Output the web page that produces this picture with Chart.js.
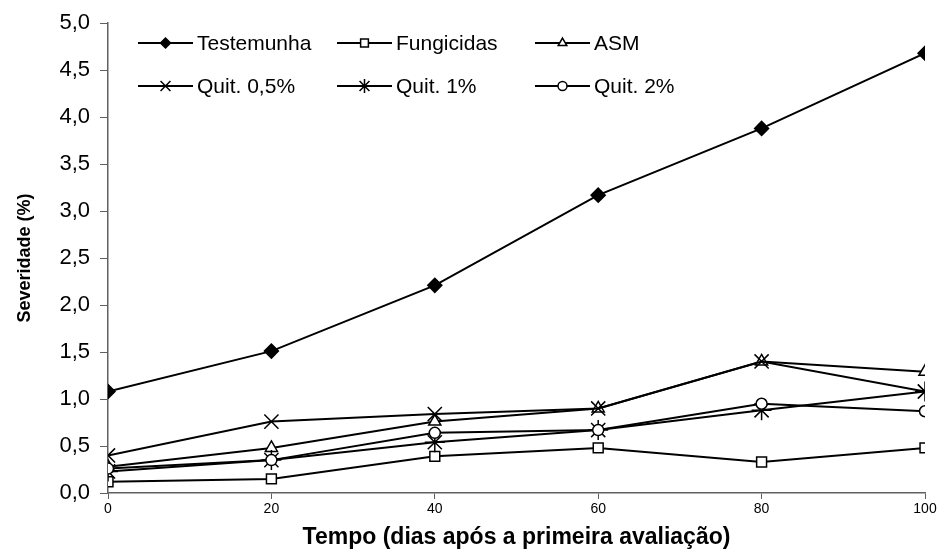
<!DOCTYPE html>
<html>
<head>
<meta charset="utf-8">
<script src="https://cdn.jsdelivr.net/npm/chart.js@4"></script>
<style>
  body { margin: 0; background: #fff; }
  #chart { display: block; }
</style>
</head>
<body>
<canvas id="chart" width="939" height="552"></canvas>
<script>
// Data
const days = [0, 20, 40, 60, 80, 100];
const seriesNames = ['Testemunha', 'Fungicidas', 'ASM', 'Quit. 0,5%', 'Quit. 1%', 'Quit. 2%'];
const testemunha = [1.08, 1.51, 2.21, 3.17, 3.88, 4.68];
const fungicidas = [0.12, 0.15, 0.39, 0.48, 0.33, 0.48];
const asm = [0.28, 0.48, 0.76, 0.90, 1.40, 1.29];
const quit05 = [0.40, 0.76, 0.84, 0.90, 1.40, 1.08];
const quit1 = [0.23, 0.35, 0.54, 0.67, 0.88, 1.08];
const quit2 = [0.26, 0.35, 0.64, 0.67, 0.95, 0.87];
const yTicks = [0, 0.5, 1, 1.5, 2, 2.5, 3, 3.5, 4, 4.5, 5];

const FONT = "'Liberation Sans', Arial, sans-serif";

// marker look per series
const markers = [
    { style: 'rectRot', radius: 7, fill: '#000', legendRadius: 5 },
    { style: 'rect', radius: 7, fill: '#fff', legendRadius: 5.5 },
    { style: 'triangle', radius: 7, fill: '#fff', legendRadius: 5 },
    { style: 'crossRot', radius: 10, fill: '#fff', legendRadius: 7 },
    { style: 'star', radius: 10, fill: '#fff', legendRadius: 7 },
    { style: 'circle', radius: 5.5, fill: '#fff', legendRadius: 4.5 }
];
const allValues = [testemunha, fungicidas, asm, quit05, quit1, quit2];

function toPoints(values) {
    return days.map((d, i) => ({ x: d, y: values[i] }));
}

const datasets = allValues.map((values, i) => ({
    label: seriesNames[i],
    data: toPoints(values),
    borderColor: '#000',
    borderWidth: 2,
    pointStyle: markers[i].style,
    pointRadius: markers[i].radius,
    pointBackgroundColor: markers[i].fill,
    pointBorderColor: '#000',
    pointBorderWidth: 1.5,
    fill: false,
    tension: 0,
    order: 10 - i   // later series on top, like the original
}));

// legend drawn in two rows inside the plot, line + marker + text
const legendCols = [138, 337, 535];
const legendRows = [43, 86];
const legendLineLen = 55;

const innerLegend = {
    id: 'innerLegend',
    afterDraw(chart) {
        const ctx = chart.ctx;
        ctx.save();
        for (let i = 0; i < seriesNames.length; i++) {
            const x0 = legendCols[i % 3];
            const y0 = legendRows[Math.floor(i / 3)];
            ctx.strokeStyle = '#000';
            ctx.lineWidth = 2;
            ctx.beginPath();
            ctx.moveTo(x0, y0);
            ctx.lineTo(x0 + legendLineLen, y0);
            ctx.stroke();
            ctx.fillStyle = markers[i].fill;
            ctx.lineWidth = 1.5;
            Chart.helpers.drawPoint(ctx, {
                pointStyle: markers[i].style,
                radius: markers[i].legendRadius,
                rotation: 0,
                borderWidth: 1.5
            }, x0 + legendLineLen / 2, y0);
            ctx.fillStyle = '#000';
            ctx.font = '21px ' + FONT;
            ctx.textBaseline = 'middle';
            ctx.textAlign = 'left';
            ctx.fillText(seriesNames[i], x0 + legendLineLen + 4, y0 + 1);
        }
        ctx.restore();
    }
};

new Chart(document.getElementById('chart').getContext('2d'), {
    type: 'line',
    data: { datasets: datasets },
    options: {
        responsive: false,
        animation: false,
        layout: { padding: { top: 23, right: 14, bottom: 0, left: 0 } },
        plugins: {
            legend: { display: false },
            tooltip: { enabled: false }
        },
        scales: {
            x: {
                type: 'linear',
                min: 0,
                max: 100,
                afterFit: (scale) => { scale.height = 59; },
                ticks: {
                    stepSize: 20,
                    color: '#000',
                    padding: 2,
                    maxRotation: 0,
                    font: { family: FONT, size: 14 }
                },
                grid: { drawOnChartArea: false, drawTicks: true, tickLength: 6, color: '#606060' },
                border: { color: '#606060', width: 1.5 },
                title: {
                    display: true,
                    text: 'Tempo (dias após a primeira avaliação)',
                    color: '#000',
                    font: { family: FONT, size: 23, weight: 'bold' },
                    padding: { top: 0, bottom: 1 }
                }
            },
            y: {
                min: 0,
                max: 5,
                afterFit: (scale) => { scale.width = 108; },
                afterBuildTicks: (scale) => { scale.ticks = yTicks.map(v => ({ value: v })); },
                ticks: {
                    color: '#000',
                    padding: 10,
                    font: { family: FONT, size: 22 },
                    callback: (v) => Number(v).toFixed(1).replace('.', ',')
                },
                grid: { drawOnChartArea: false, drawTicks: true, tickLength: 8, color: '#606060' },
                border: { color: '#606060', width: 1.5 },
                title: {
                    display: true,
                    text: 'Severidade (%)',
                    color: '#000',
                    font: { family: FONT, size: 18, weight: 'bold' },
                    padding: { top: 14, bottom: 0 }
                }
            }
        }
    },
    plugins: [innerLegend]
});
</script>
</body>
</html>
